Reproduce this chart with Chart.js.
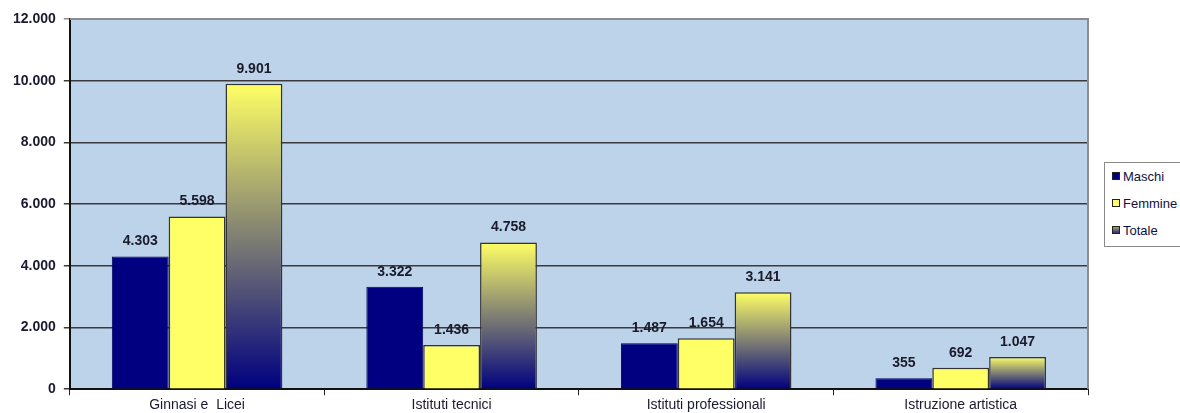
<!DOCTYPE html>
<html>
<head>
<meta charset="utf-8">
<script src="https://cdn.jsdelivr.net/npm/chart.js@4.4.1/dist/chart.umd.min.js"></script>
<style>
  html, body { margin: 0; padding: 0; background: #fff; overflow: hidden; }
  #wrap { position: relative; width: 1180px; height: 413px; }
  #legend {
    position: absolute; left: 1104px; top: 162px; width: 90px; height: 85px;
    border: 1px solid #8a8a8a; background: #fff; box-sizing: border-box;
    font-family: "Liberation Sans", Arial, sans-serif; font-size: 13px; color: #101040;
  }
  #legend div { position: absolute; left: 7px; white-space: nowrap; }
  #legend span { display: inline-block; width: 6px; height: 6px; border: 1px solid #222; margin-right: 3px; vertical-align: 1px; }
</style>
</head>
<body>
<div id="wrap">
  <canvas id="chart" width="1180" height="413"></canvas>
  <div id="legend"></div>
</div>
<script>
// dati
const categorie = ['Ginnasi e  Licei', 'Istituti tecnici', 'Istituti professionali', 'Istruzione artistica'];
const maschi = [4303, 3322, 1487, 355];
const femmine = [5598, 1436, 1654, 692];
const totale = [9901, 4758, 3141, 1047];
const serieNomi = ['Maschi', 'Femmine', 'Totale'];
const yTicks = [0, 2000, 4000, 6000, 8000, 10000, 12000];

const fmt = v => String(v).replace(/\B(?=(\d{3})+(?!\d))/g, '.');

// gradiente per le barre "Totale"
function gradTotale(context) {
    const chart = context.chart;
    const y = chart.scales.y;
    if (!y || context.raw === undefined) return '#808073';
    const top = y.getPixelForValue(context.raw);
    const bottom = y.getPixelForValue(0);
    if (!isFinite(top) || !isFinite(bottom) || top === bottom) return '#808073';
    const g = chart.ctx.createLinearGradient(0, top, 0, bottom);
    g.addColorStop(0, '#FFFF66');
    g.addColorStop(1, '#000080');
    return g;
}

const sfondo = {
    id: 'sfondo',
    beforeDraw(chart) {
        const { ctx, chartArea: a } = chart;
        ctx.save();
        ctx.fillStyle = '#BCD3EA';
        ctx.fillRect(a.left, a.top, a.right - a.left, a.bottom - a.top);
        ctx.restore();
    },
    afterDraw(chart) {
        const { ctx, chartArea: a } = chart;
        ctx.save();
        ctx.strokeStyle = '#8c8c8c';
        ctx.lineWidth = 2;
        ctx.beginPath();
        ctx.moveTo(a.left, a.top);
        ctx.lineTo(a.right, a.top);
        ctx.lineTo(a.right, a.bottom);
        ctx.stroke();
        ctx.restore();
    }
};

const etichette = {
    id: 'etichette',
    afterDatasetsDraw(chart) {
        const ctx = chart.ctx;
        ctx.save();
        ctx.font = 'bold 14px "Liberation Sans", Arial, sans-serif';
        ctx.fillStyle = '#1a1a2a';
        ctx.textAlign = 'center';
        ctx.textBaseline = 'bottom';
        chart.data.datasets.forEach((ds, i) => {
            chart.getDatasetMeta(i).data.forEach((bar, j) => {
                ctx.fillText(fmt(ds.data[j]), bar.x, bar.y - 8);
            });
        });
        ctx.restore();
    }
};

// legenda
const colori = ['#000080', '#FFFF66', 'linear-gradient(#a0a070, #303070)'];
const leg = document.getElementById('legend');
serieNomi.forEach((n, i) => {
    const d = document.createElement('div');
    d.style.top = (6 + i * 27) + 'px';
    d.innerHTML = '<span style="background:' + colori[i] + '"></span>' + n;
    leg.appendChild(d);
});

const chart = new Chart(document.getElementById('chart'), {
    type: 'bar',
    data: {
        labels: categorie,
        datasets: [
            { label: serieNomi[0], data: maschi, backgroundColor: '#000080', borderColor: '#000060', borderWidth: 1 },
            { label: serieNomi[1], data: femmine, backgroundColor: '#FFFF66', borderColor: '#333', borderWidth: 1.5 },
            { label: serieNomi[2], data: totale, backgroundColor: gradTotale, borderColor: '#333', borderWidth: 1.5 }
        ]
    },
    options: {
        responsive: false,
        animation: false,
        events: [],
        layout: { padding: { left: 5, right: 92, top: 19, bottom: -3 } },
        datasets: { bar: { categoryPercentage: 0.67, barPercentage: 1 } },
        plugins: { legend: { display: false }, tooltip: { enabled: false } },
        scales: {
            x: {
                grid: { display: true, drawOnChartArea: false, color: '#222', tickLength: 6, offset: true },
                border: { color: '#111', width: 2 },
                ticks: { color: '#1a1a30', font: { family: '"Liberation Sans", Arial, sans-serif', size: 14 }, padding: 2 }
            },
            y: {
                min: 0, max: 12000,
                afterBuildTicks: scale => { scale.ticks = yTicks.map(v => ({ value: v })); },
                grid: { color: ctx => ctx.tick && ctx.tick.value === 12000 ? '#8c8c8c' : '#3a3a3a', lineWidth: 1.5, tickLength: 6 },
                border: { color: '#111', width: 2 },
                ticks: { color: '#1a1a30', font: { family: '"Liberation Sans", Arial, sans-serif', size: 14, weight: 'bold' }, padding: 8, callback: v => fmt(v) }
            }
        }
    },
    plugins: [sfondo, etichette]
});
chart.update();
</script>
</body>
</html>
